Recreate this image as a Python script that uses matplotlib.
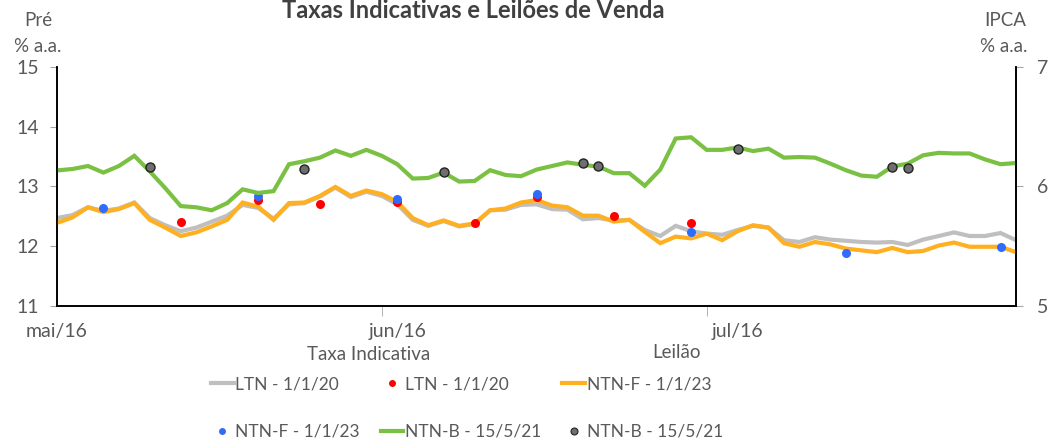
import matplotlib
matplotlib.use("Agg")
import matplotlib.pyplot as plt
from matplotlib.lines import Line2D
import numpy as np

plt.rcParams['font.family'] = ['Lato', 'DejaVu Sans']

# ---- data (index = business day since start of May/2016) ----
ltn_line = [12.47, 12.52, 12.65, 12.59, 12.63, 12.73, 12.47, 12.35, 12.25, 12.31,
            12.41, 12.51, 12.69, 12.64, 12.46, 12.70, 12.72, 12.83, 12.98, 12.82,
            12.91, 12.84, 12.70, 12.44, 12.34, 12.42, 12.33, 12.37, 12.60, 12.61,
            12.69, 12.70, 12.62, 12.61, 12.45, 12.47, 12.43, 12.44, 12.27, 12.17,
            12.34, 12.25, 12.21, 12.19, 12.27, 12.34, 12.31, 12.10, 12.07, 12.15,
            12.11, 12.09, 12.07, 12.06, 12.07, 12.02, 12.11, 12.17, 12.23, 12.17,
            12.17, 12.22, 12.10]
ntnf_line = [12.39, 12.48, 12.65, 12.57, 12.62, 12.72, 12.44, 12.31, 12.17, 12.23,
             12.33, 12.44, 12.73, 12.66, 12.44, 12.72, 12.73, 12.84, 12.99, 12.84,
             12.93, 12.87, 12.74, 12.47, 12.35, 12.43, 12.34, 12.38, 12.60, 12.63,
             12.73, 12.77, 12.68, 12.65, 12.51, 12.51, 12.41, 12.44, 12.24, 12.05,
             12.16, 12.13, 12.21, 12.10, 12.25, 12.35, 12.31, 12.05, 11.99, 12.07,
             12.03, 11.96, 11.93, 11.90, 11.97, 11.90, 11.92, 12.01, 12.06, 11.99,
             11.99, 11.99, 11.90]
ntnb_line = [6.133, 6.145, 6.170, 6.115, 6.170, 6.255, 6.125, 5.985, 5.835, 5.825,
             5.800, 5.860, 5.975, 5.945, 5.960, 6.185, 6.210, 6.240, 6.300, 6.255,
             6.305, 6.255, 6.185, 6.065, 6.070, 6.115, 6.040, 6.045, 6.135, 6.095,
             6.085, 6.140, 6.170, 6.200, 6.180, 6.165, 6.110, 6.110, 6.005, 6.140,
             6.400, 6.410, 6.305, 6.305, 6.325, 6.295, 6.315, 6.240, 6.245, 6.240,
             6.190, 6.135, 6.090, 6.080, 6.165, 6.190, 6.260, 6.280, 6.275, 6.275,
             6.225, 6.185, 6.195]

ltn_auction_x = [8, 13, 17, 22, 27, 31, 36, 41]
ltn_auction_y = [12.41, 12.77, 12.71, 12.74, 12.39, 12.82, 12.51, 12.38]
ntnf_auction_x = [3, 13, 22, 31, 41, 51, 61]
ntnf_auction_y = [12.64, 12.84, 12.79, 12.88, 12.23, 11.89, 11.99]
ntnb_auction_x = [6, 16, 25, 34, 35, 44, 54, 55]
ntnb_auction_y = [6.159, 6.142, 6.119, 6.192, 6.170, 6.309, 6.164, 6.150]

month_labels = ['mai/16', 'jun/16', 'jul/16']
month_tick_pos = [0, 21, 42]
month_label_pos = [0, 22, 44]

# ---- styling ----
C_GRAY = '#BFBFBF'
C_RED = '#FF0000'
C_ORANGE = '#FFB020'
C_BLUE = '#2F6BFF'
C_GREEN = '#7AC143'
C_DOT = '#6E6E6E'
TXT = '#595959'

W, H = 1049, 441
fig = plt.figure(figsize=(W / 100, H / 100), dpi=100)
L, R, T, B = 57, 1016, 66.7, 306
ax = fig.add_axes([L / W, 1 - B / H, (R - L) / W, (B - T) / H])
ax2 = ax.twinx()

x = np.arange(len(ltn_line))
lw = 3.0
ax.plot(x, ltn_line, color=C_GRAY, lw=lw, zorder=2, solid_joinstyle='miter')
ax.plot(x, ntnf_line, color=C_ORANGE, lw=lw, zorder=3, solid_joinstyle='miter')
ax2.plot(x, ntnb_line, color=C_GREEN, lw=lw, zorder=2, solid_joinstyle='miter')
ax.plot(ltn_auction_x, ltn_auction_y, 'o', color=C_RED, ms=6.5, mew=0, zorder=4)
ax.plot(ntnf_auction_x, ntnf_auction_y, 'o', color=C_BLUE, ms=6.5, mew=0, zorder=5)
ax2.plot(ntnb_auction_x, ntnb_auction_y, 'o', color=C_DOT, ms=6.5, mec='#222222',
         mew=1.0, zorder=5)

ax.set_xlim(0, len(x) - 1)
ax.set_ylim(11, 15)
ax2.set_ylim(5, 7)
ax.set_yticks([11, 12, 13, 14, 15])
ax2.set_yticks([5, 6, 7])

ax.set_xticks(month_label_pos)
ax.set_xticklabels(month_labels)
ax.set_xticks(month_tick_pos, minor=True)
FS = 14
ax.tick_params(axis='x', which='major', length=0, pad=12, labelsize=FS, labelcolor=TXT)
ax.tick_params(axis='x', which='minor', length=7, color='#A6A6A6', direction='out')
ax.tick_params(axis='y', length=5, color='#A6A6A6', labelsize=FS, labelcolor=TXT, pad=8)
ax2.tick_params(axis='y', length=5, color='#A6A6A6', labelsize=FS, labelcolor=TXT, pad=10)

for a in (ax, ax2):
    a.spines['top'].set_visible(False)
    for s in ('left', 'right', 'bottom'):
        a.spines[s].set_color('black')
        a.spines[s].set_linewidth(1.2)

# ---- texts ----
fig.text(473 / W, 1 - 18 / H, 'Taxas Indicativas e Leilões de Venda', ha='center', va='baseline',
         fontsize=17, fontweight='bold', color='#404040')
TS = 13.5
fig.text(38 / W, 1 - 20 / H, 'Pré', ha='center', va='center', fontsize=TS, color=TXT)
fig.text(38 / W, 1 - 46 / H, '% a.a.', ha='center', va='center', fontsize=TS, color=TXT)
fig.text(1005 / W, 1 - 20 / H, 'IPCA', ha='center', va='center', fontsize=TS, color=TXT)
fig.text(1004 / W, 1 - 46 / H, '% a.a.', ha='center', va='center', fontsize=TS, color=TXT)
fig.text(369 / W, 1 - 355 / H, 'Taxa Indicativa', ha='center', va='center', fontsize=TS, color=TXT)
fig.text(677 / W, 1 - 352 / H, 'Leilão', ha='center', va='center', fontsize=TS, color=TXT)

# ---- legend ----
h_ltn_l = Line2D([], [], color=C_GRAY, lw=lw)
h_ltn_d = Line2D([], [], color=C_RED, marker='o', ls='none', ms=5, mew=0)
h_ntnf_l = Line2D([], [], color=C_ORANGE, lw=lw)
h_ntnf_d = Line2D([], [], color=C_BLUE, marker='o', ls='none', ms=5, mew=0)
h_ntnb_l = Line2D([], [], color=C_GREEN, lw=lw)
h_ntnb_d = Line2D([], [], color=C_DOT, marker='o', ls='none', ms=5, mec='#222222', mew=0.8)
handles = [h_ltn_l, h_ntnf_d, h_ltn_d, h_ntnb_l, h_ntnf_l, h_ntnb_d]
labels = ['LTN - 1/1/20', 'NTN-F - 1/1/23', 'LTN - 1/1/20', 'NTN-B - 15/5/21',
          'NTN-F - 1/1/23', 'NTN-B - 15/5/21']
leg = fig.legend(handles, labels, ncol=3, loc='center', bbox_to_anchor=(467 / W, 1 - 408 / H),
                 frameon=False, fontsize=12.5, handlelength=1.3, handletextpad=0.1,
                 columnspacing=1.2, labelspacing=1.8, labelcolor=TXT)

fig.savefig('out.png', dpi=100)
